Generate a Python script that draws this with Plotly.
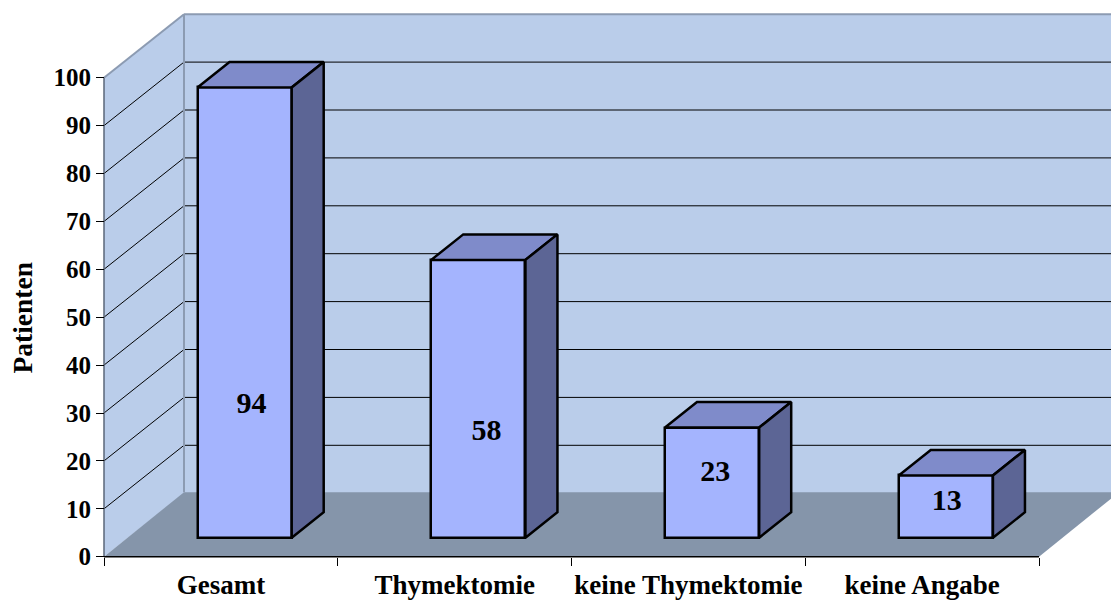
import plotly.graph_objects as go

categories = ["Gesamt", "Thymektomie", "keine Thymektomie", "keine Angabe"]
values = [94, 58, 23, 13]
y_ticks = [0, 10, 20, 30, 40, 50, 60, 70, 80, 90, 100]
label_x_offset = [0.03, 0.035, 0.013, 0.004]
label_y = [31.5, 25.9, 17.3, 11.3]

W, H = 1111, 601
X0, Y0 = 104, 556.7    # pixel of axes origin
CAT_PX, UNIT_PX = 233.75, 4.79
DX, DY = 80 / CAT_PX, 63.5 / UNIT_PX     # wall depth in data units
FLOOR_DY = 64.5 / UNIT_PX
BDX, BDY = 32 / CAT_PX, 25.5 / UNIT_PX   # bar depth
BAR_W = 94.2 / CAT_PX
BAR_L = 93.5 / CAT_PX
BASE = 19 / UNIT_PX

WALL = "#BACDEA"
FLOOR = "#8595AA"
EDGE = "#8C9BB2"
FRONT = "#A4B4FE"
TOP = "#7F8BCA"
SIDE = "#5C6595"
FONT = "Liberation Serif"

def poly(xs, ys, fill, line=None, w=0):
    return dict(type="path", xref="x", yref="y", layer="below",
                path="M" + " L".join(f"{a},{b}" for a, b in zip(xs, ys)) + " Z",
                fillcolor=fill, line=dict(color=line or fill, width=w))

def seg(x0, y0, x1, y1, color="black", w=1):
    return dict(type="line", xref="x", yref="y", layer="below",
                x0=x0, y0=y0, x1=x1, y1=y1, line=dict(color=color, width=w))

xmin, xmax = -X0 / CAT_PX, (W - X0) / CAT_PX
ymin, ymax = -(H - Y0) / UNIT_PX, Y0 / UNIT_PX
XR = 4 + DX

shapes = [
    poly([DX, XR, XR, DX], [DY, DY, 100 + DY, 100 + DY], WALL),
    poly([0, DX, DX, 0], [0, DY, 100 + DY, 100], WALL),
    poly([0, 4, XR, DX], [0, 0, FLOOR_DY, FLOOR_DY], FLOOR),
]
for t in y_ticks[1:-1]:
    shapes.append(seg(0, t, DX, t + DY))
    shapes.append(seg(DX, t + DY, XR, t + DY))
shapes += [
    seg(DX, FLOOR_DY, DX, 100 + DY, EDGE, 2),
    seg(0, 100, DX, 100 + DY, EDGE, 2),
    seg(DX, 100 + DY, XR, 100 + DY, EDGE, 2),
    seg(0, 0, 0, 100, "#5A6678", 1.5),
    seg(0, 0, 4, 0, "black", 1.5),
]

fig = go.Figure()
lefts = [i + BAR_L for i in range(len(values))]
fig.add_trace(go.Bar(
    x=[l + BAR_W / 2 for l in lefts], y=values, base=BASE, width=BAR_W,
    marker=dict(color=FRONT, line=dict(color="black", width=2.5)),
    hoverinfo="skip", showlegend=False))

for l, v in zip(lefts, values):
    r = l + BAR_W
    t = BASE + v
    fig.add_trace(go.Scatter(
        x=[l, r, r + BDX, l + BDX, l], y=[t, t, t + BDY, t + BDY, t],
        mode="lines", fill="toself", fillcolor=TOP,
        line=dict(color="black", width=2.5), hoverinfo="skip", showlegend=False))
    fig.add_trace(go.Scatter(
        x=[r, r + BDX, r + BDX, r, r], y=[BASE, BASE + BDY, t + BDY, t, BASE],
        mode="lines", fill="toself", fillcolor=SIDE,
        line=dict(color="black", width=2.5), hoverinfo="skip", showlegend=False))

fig.add_trace(go.Scatter(
    x=[l + BAR_W / 2 + o for l, o in zip(lefts, label_x_offset)], y=label_y,
    text=[str(v) for v in values], mode="text",
    textfont=dict(family=FONT, size=30, color="black", weight="bold"),
    hoverinfo="skip", showlegend=False))

fig.update_layout(
    width=W, height=H, margin=dict(l=0, r=0, t=0, b=0, autoexpand=False),
    paper_bgcolor="white", plot_bgcolor="white", shapes=shapes,
    bargap=0, showlegend=False,
    xaxis=dict(range=[xmin, xmax], anchor="free", position=(H - Y0) / H, automargin=False,
               showgrid=False, zeroline=False, showline=False,
               tickmode="array", tickvals=[i + 0.5 for i in range(4)], ticktext=categories,
               ticks="outside", ticklen=0, ticklabelstandoff=4,
               tickfont=dict(family=FONT, size=27, color="black", weight="bold"),
               minor=dict(tickmode="array", tickvals=[0, 1, 2, 3, 4], ticks="outside",
                          ticklen=8, tickwidth=1, tickcolor="black", showgrid=False)),
    yaxis=dict(range=[ymin, ymax], anchor="free", position=X0 / W, automargin=False,
               showgrid=False, zeroline=False, showline=False,
               tickmode="array", tickvals=y_ticks, ticks="outside", ticklen=8,
               tickwidth=1, tickcolor="black",
               tickfont=dict(family=FONT, size=25, color="black", weight="bold")),
    annotations=[dict(text="<b>Patienten</b>", textangle=-90, x=21.5 / W, y=1 - 318 / H,
                      xref="paper", yref="paper", xanchor="center", yanchor="middle",
                      showarrow=False,
                      font=dict(family=FONT, size=27.5, color="black"))],
)
fig.write_html("out.html", config={"displayModeBar": False},
               post_script="document.body.style.margin='0';")
